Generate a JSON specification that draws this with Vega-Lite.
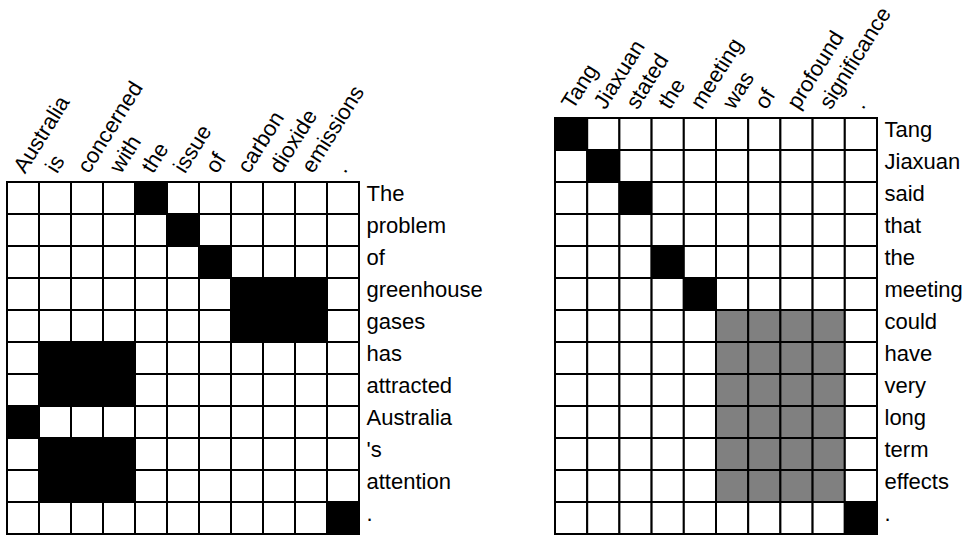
{
  "$schema": "https://vega.github.io/schema/vega-lite/v6.json",
  "background": "white",
  "padding": {"left": 6, "top": 2, "right": 0, "bottom": 0},
  "spacing": 71,
  "config": {
    "view": {"stroke": null},
    "font": "Liberation Sans",
    "axis": {"labelFont": "Liberation Sans", "labelFontSize": 22, "labelColor": "black", "ticks": false, "domain": false, "grid": false},
    "axisX": {"labelAngle": -58, "labelAlign": "left", "labelBaseline": "alphabetic", "labelPadding": 8, "labelOffset": 2},
    "axisY": {"labelAlign": "left", "labelBaseline": "alphabetic", "labelPadding": 7, "labelOffset": 3}
  },
  "datasets": {
    "left": [
      {"r":"The","c":"Australia","a":0},{"r":"The","c":"is","a":0},{"r":"The","c":"concerned","a":0},{"r":"The","c":"with","a":0},{"r":"The","c":"the","a":1},{"r":"The","c":"issue","a":0},{"r":"The","c":"of","a":0},{"r":"The","c":"carbon","a":0},{"r":"The","c":"dioxide","a":0},{"r":"The","c":"emissions","a":0},{"r":"The","c":".","a":0},
      {"r":"problem","c":"Australia","a":0},{"r":"problem","c":"is","a":0},{"r":"problem","c":"concerned","a":0},{"r":"problem","c":"with","a":0},{"r":"problem","c":"the","a":0},{"r":"problem","c":"issue","a":1},{"r":"problem","c":"of","a":0},{"r":"problem","c":"carbon","a":0},{"r":"problem","c":"dioxide","a":0},{"r":"problem","c":"emissions","a":0},{"r":"problem","c":".","a":0},
      {"r":"of","c":"Australia","a":0},{"r":"of","c":"is","a":0},{"r":"of","c":"concerned","a":0},{"r":"of","c":"with","a":0},{"r":"of","c":"the","a":0},{"r":"of","c":"issue","a":0},{"r":"of","c":"of","a":1},{"r":"of","c":"carbon","a":0},{"r":"of","c":"dioxide","a":0},{"r":"of","c":"emissions","a":0},{"r":"of","c":".","a":0},
      {"r":"greenhouse","c":"Australia","a":0},{"r":"greenhouse","c":"is","a":0},{"r":"greenhouse","c":"concerned","a":0},{"r":"greenhouse","c":"with","a":0},{"r":"greenhouse","c":"the","a":0},{"r":"greenhouse","c":"issue","a":0},{"r":"greenhouse","c":"of","a":0},{"r":"greenhouse","c":"carbon","a":1},{"r":"greenhouse","c":"dioxide","a":1},{"r":"greenhouse","c":"emissions","a":1},{"r":"greenhouse","c":".","a":0},
      {"r":"gases","c":"Australia","a":0},{"r":"gases","c":"is","a":0},{"r":"gases","c":"concerned","a":0},{"r":"gases","c":"with","a":0},{"r":"gases","c":"the","a":0},{"r":"gases","c":"issue","a":0},{"r":"gases","c":"of","a":0},{"r":"gases","c":"carbon","a":1},{"r":"gases","c":"dioxide","a":1},{"r":"gases","c":"emissions","a":1},{"r":"gases","c":".","a":0},
      {"r":"has","c":"Australia","a":0},{"r":"has","c":"is","a":1},{"r":"has","c":"concerned","a":1},{"r":"has","c":"with","a":1},{"r":"has","c":"the","a":0},{"r":"has","c":"issue","a":0},{"r":"has","c":"of","a":0},{"r":"has","c":"carbon","a":0},{"r":"has","c":"dioxide","a":0},{"r":"has","c":"emissions","a":0},{"r":"has","c":".","a":0},
      {"r":"attracted","c":"Australia","a":0},{"r":"attracted","c":"is","a":1},{"r":"attracted","c":"concerned","a":1},{"r":"attracted","c":"with","a":1},{"r":"attracted","c":"the","a":0},{"r":"attracted","c":"issue","a":0},{"r":"attracted","c":"of","a":0},{"r":"attracted","c":"carbon","a":0},{"r":"attracted","c":"dioxide","a":0},{"r":"attracted","c":"emissions","a":0},{"r":"attracted","c":".","a":0},
      {"r":"Australia","c":"Australia","a":1},{"r":"Australia","c":"is","a":0},{"r":"Australia","c":"concerned","a":0},{"r":"Australia","c":"with","a":0},{"r":"Australia","c":"the","a":0},{"r":"Australia","c":"issue","a":0},{"r":"Australia","c":"of","a":0},{"r":"Australia","c":"carbon","a":0},{"r":"Australia","c":"dioxide","a":0},{"r":"Australia","c":"emissions","a":0},{"r":"Australia","c":".","a":0},
      {"r":"'s","c":"Australia","a":0},{"r":"'s","c":"is","a":1},{"r":"'s","c":"concerned","a":1},{"r":"'s","c":"with","a":1},{"r":"'s","c":"the","a":0},{"r":"'s","c":"issue","a":0},{"r":"'s","c":"of","a":0},{"r":"'s","c":"carbon","a":0},{"r":"'s","c":"dioxide","a":0},{"r":"'s","c":"emissions","a":0},{"r":"'s","c":".","a":0},
      {"r":"attention","c":"Australia","a":0},{"r":"attention","c":"is","a":1},{"r":"attention","c":"concerned","a":1},{"r":"attention","c":"with","a":1},{"r":"attention","c":"the","a":0},{"r":"attention","c":"issue","a":0},{"r":"attention","c":"of","a":0},{"r":"attention","c":"carbon","a":0},{"r":"attention","c":"dioxide","a":0},{"r":"attention","c":"emissions","a":0},{"r":"attention","c":".","a":0},
      {"r":".","c":"Australia","a":0},{"r":".","c":"is","a":0},{"r":".","c":"concerned","a":0},{"r":".","c":"with","a":0},{"r":".","c":"the","a":0},{"r":".","c":"issue","a":0},{"r":".","c":"of","a":0},{"r":".","c":"carbon","a":0},{"r":".","c":"dioxide","a":0},{"r":".","c":"emissions","a":0},{"r":".","c":".","a":1}
    ],
    "right": [
      {"r":"Tang","c":"Tang","a":1},{"r":"Tang","c":"Jiaxuan","a":0},{"r":"Tang","c":"stated","a":0},{"r":"Tang","c":"the","a":0},{"r":"Tang","c":"meeting","a":0},{"r":"Tang","c":"was","a":0},{"r":"Tang","c":"of","a":0},{"r":"Tang","c":"profound","a":0},{"r":"Tang","c":"significance","a":0},{"r":"Tang","c":".","a":0},
      {"r":"Jiaxuan","c":"Tang","a":0},{"r":"Jiaxuan","c":"Jiaxuan","a":1},{"r":"Jiaxuan","c":"stated","a":0},{"r":"Jiaxuan","c":"the","a":0},{"r":"Jiaxuan","c":"meeting","a":0},{"r":"Jiaxuan","c":"was","a":0},{"r":"Jiaxuan","c":"of","a":0},{"r":"Jiaxuan","c":"profound","a":0},{"r":"Jiaxuan","c":"significance","a":0},{"r":"Jiaxuan","c":".","a":0},
      {"r":"said","c":"Tang","a":0},{"r":"said","c":"Jiaxuan","a":0},{"r":"said","c":"stated","a":1},{"r":"said","c":"the","a":0},{"r":"said","c":"meeting","a":0},{"r":"said","c":"was","a":0},{"r":"said","c":"of","a":0},{"r":"said","c":"profound","a":0},{"r":"said","c":"significance","a":0},{"r":"said","c":".","a":0},
      {"r":"that","c":"Tang","a":0},{"r":"that","c":"Jiaxuan","a":0},{"r":"that","c":"stated","a":0},{"r":"that","c":"the","a":0},{"r":"that","c":"meeting","a":0},{"r":"that","c":"was","a":0},{"r":"that","c":"of","a":0},{"r":"that","c":"profound","a":0},{"r":"that","c":"significance","a":0},{"r":"that","c":".","a":0},
      {"r":"the","c":"Tang","a":0},{"r":"the","c":"Jiaxuan","a":0},{"r":"the","c":"stated","a":0},{"r":"the","c":"the","a":1},{"r":"the","c":"meeting","a":0},{"r":"the","c":"was","a":0},{"r":"the","c":"of","a":0},{"r":"the","c":"profound","a":0},{"r":"the","c":"significance","a":0},{"r":"the","c":".","a":0},
      {"r":"meeting","c":"Tang","a":0},{"r":"meeting","c":"Jiaxuan","a":0},{"r":"meeting","c":"stated","a":0},{"r":"meeting","c":"the","a":0},{"r":"meeting","c":"meeting","a":1},{"r":"meeting","c":"was","a":0},{"r":"meeting","c":"of","a":0},{"r":"meeting","c":"profound","a":0},{"r":"meeting","c":"significance","a":0},{"r":"meeting","c":".","a":0},
      {"r":"could","c":"Tang","a":0},{"r":"could","c":"Jiaxuan","a":0},{"r":"could","c":"stated","a":0},{"r":"could","c":"the","a":0},{"r":"could","c":"meeting","a":0},{"r":"could","c":"was","a":0.5},{"r":"could","c":"of","a":0.5},{"r":"could","c":"profound","a":0.5},{"r":"could","c":"significance","a":0.5},{"r":"could","c":".","a":0},
      {"r":"have","c":"Tang","a":0},{"r":"have","c":"Jiaxuan","a":0},{"r":"have","c":"stated","a":0},{"r":"have","c":"the","a":0},{"r":"have","c":"meeting","a":0},{"r":"have","c":"was","a":0.5},{"r":"have","c":"of","a":0.5},{"r":"have","c":"profound","a":0.5},{"r":"have","c":"significance","a":0.5},{"r":"have","c":".","a":0},
      {"r":"very","c":"Tang","a":0},{"r":"very","c":"Jiaxuan","a":0},{"r":"very","c":"stated","a":0},{"r":"very","c":"the","a":0},{"r":"very","c":"meeting","a":0},{"r":"very","c":"was","a":0.5},{"r":"very","c":"of","a":0.5},{"r":"very","c":"profound","a":0.5},{"r":"very","c":"significance","a":0.5},{"r":"very","c":".","a":0},
      {"r":"long","c":"Tang","a":0},{"r":"long","c":"Jiaxuan","a":0},{"r":"long","c":"stated","a":0},{"r":"long","c":"the","a":0},{"r":"long","c":"meeting","a":0},{"r":"long","c":"was","a":0.5},{"r":"long","c":"of","a":0.5},{"r":"long","c":"profound","a":0.5},{"r":"long","c":"significance","a":0.5},{"r":"long","c":".","a":0},
      {"r":"term","c":"Tang","a":0},{"r":"term","c":"Jiaxuan","a":0},{"r":"term","c":"stated","a":0},{"r":"term","c":"the","a":0},{"r":"term","c":"meeting","a":0},{"r":"term","c":"was","a":0.5},{"r":"term","c":"of","a":0.5},{"r":"term","c":"profound","a":0.5},{"r":"term","c":"significance","a":0.5},{"r":"term","c":".","a":0},
      {"r":"effects","c":"Tang","a":0},{"r":"effects","c":"Jiaxuan","a":0},{"r":"effects","c":"stated","a":0},{"r":"effects","c":"the","a":0},{"r":"effects","c":"meeting","a":0},{"r":"effects","c":"was","a":0.5},{"r":"effects","c":"of","a":0.5},{"r":"effects","c":"profound","a":0.5},{"r":"effects","c":"significance","a":0.5},{"r":"effects","c":".","a":0},
      {"r":".","c":"Tang","a":0},{"r":".","c":"Jiaxuan","a":0},{"r":".","c":"stated","a":0},{"r":".","c":"the","a":0},{"r":".","c":"meeting","a":0},{"r":".","c":"was","a":0},{"r":".","c":"of","a":0},{"r":".","c":"profound","a":0},{"r":".","c":"significance","a":0},{"r":".","c":".","a":1}
    ]
  },
  "hconcat": [
    {
      "data": {"name": "left"},
      "width": 352,
      "height": 416,
      "mark": {"type": "rect", "stroke": "black", "strokeWidth": 2},
      "encoding": {
        "x": {"field": "c", "type": "ordinal", "sort": null, "axis": {"orient": "top", "title": null, "offset": -64}},
        "y": {"field": "r", "type": "ordinal", "sort": null, "scale": {"paddingInner": 0, "paddingOuter": 1, "align": 1}, "axis": {"orient": "right", "title": null}},
        "fill": {"field": "a", "type": "ordinal", "scale": {"domain": [0, 0.5, 1], "range": ["#ffffff", "#808080", "#000000"]}, "legend": null}
      }
    },
    {
      "data": {"name": "right"},
      "width": 322,
      "height": 416,
      "mark": {"type": "rect", "stroke": "black", "strokeWidth": 2},
      "encoding": {
        "x": {"field": "c", "type": "ordinal", "sort": null, "axis": {"orient": "top", "title": null}},
        "y": {"field": "r", "type": "ordinal", "sort": null, "scale": {"paddingInner": 0, "paddingOuter": 0}, "axis": {"orient": "right", "title": null}},
        "fill": {"field": "a", "type": "ordinal", "scale": {"domain": [0, 0.5, 1], "range": ["#ffffff", "#808080", "#000000"]}, "legend": null}
      }
    }
  ]
}
